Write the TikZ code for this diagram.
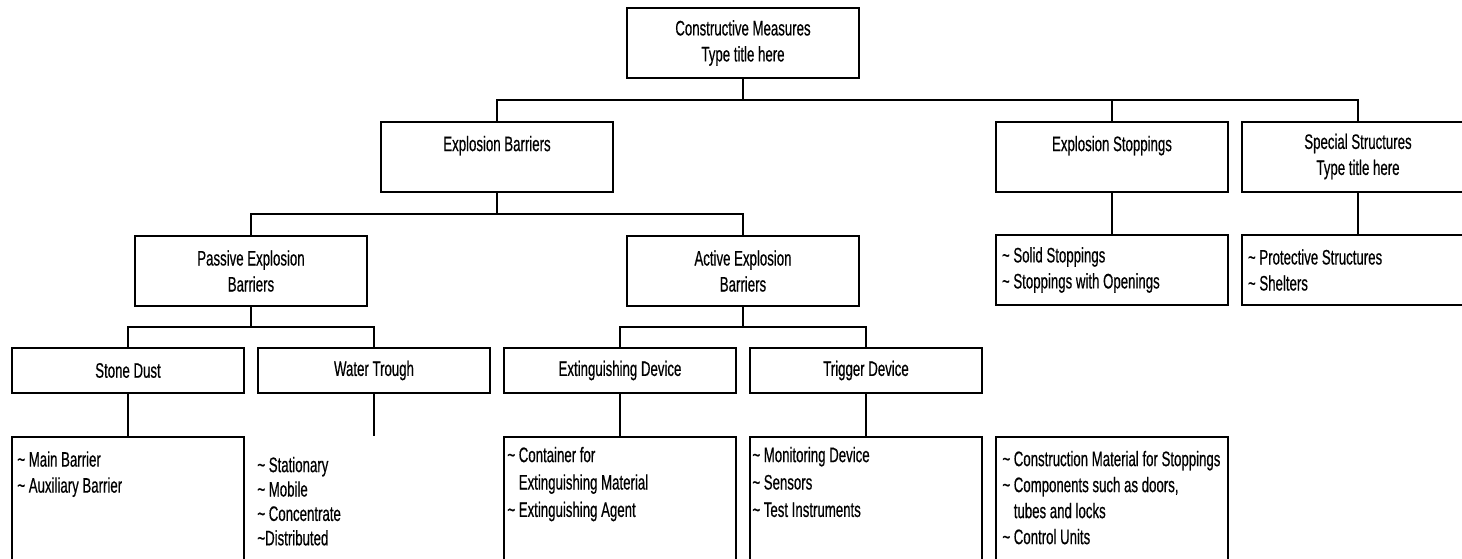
\documentclass[tikz,border=0pt]{standalone}
\usepackage{fontspec}
\setmainfont{Liberation Sans}[FakeStretch=0.63, FakeBold=0.5]
\usetikzlibrary{positioning,calc}

\newcommand{\itm}{\textasciitilde\ }
\newcommand{\itmgap}{\phantom{\textasciitilde\ }}

\begin{document}
\begin{tikzpicture}[
  x=1pt, y=1pt,
  node distance=6pt,
  every node/.style={font=\fontsize{10.5}{13}\selectfont},
  box/.style={draw, line width=1pt, align=center, inner sep=0pt,
              minimum width=116pt, minimum height=35pt},
  leaf/.style={box, minimum height=22.5pt},
  items/.style={box, align=flush left, text width=110pt},
  listbox/.style={draw, line width=1pt, inner sep=0pt,
                  minimum width=116pt, minimum height=72pt},
  listtext/.style={align=left, inner sep=0pt},
  link/.style={line width=1pt},
]
\useasboundingbox (0,0) rectangle (731,-279);
\clip (0,0) rectangle (731,-279);

% bottom row
\node[leaf] (stone) at (64,-185.25) {Stone Dust};
\node[leaf, right=of stone]  (water)   {Water Trough};
\node[leaf, right=of water]  (exting)  {Extinguishing Device};
\node[leaf, right=of exting] (trigger) {Trigger Device};

% upper levels
\node[box, yshift=49.75pt] (passive) at ($(stone)!.5!(water)$)    {Passive Explosion\\Barriers};
\node[box, yshift=49.75pt] (active)  at ($(exting)!.5!(trigger)$) {Active Explosion\\Barriers};
\node[box, yshift=57.25pt] (expl)    at ($(passive)!.5!(active)$) {Explosion Barriers\\\mbox{}};
\node[box, above=78pt of active]           (top)  {Constructive Measures\\Type title here};
\node[box, right=of trigger, yshift=107pt] (stop) {Explosion Stoppings\\\mbox{}};
\node[box, right=of stop]                  (spec) {Special Structures\\Type title here};

\node[items, below=20.75pt of stop] (stoplist) {\itm Solid Stoppings\\\itm Stoppings with Openings};
\node[items, below=20.75pt of spec] (speclist) {\itm Protective Structures\\\itm Shelters};

% detail boxes (run off the page)
\node[listbox, below=21pt of stone]            (stonelist) {};
\node[listbox, draw=none, below=21pt of water] (waterlist) {};
\node[listbox, below=21pt of exting]           (extlist)   {};
\node[listbox, below=21pt of trigger]          (triglist)  {};
\node[listbox, right=of triglist]              (conlist)   {};

\node[listtext, below right=7.5pt and 3pt of stonelist.north west] (stonetext)
  {\itm Main Barrier\\\itm Auxiliary Barrier};
\node[listtext, font=\fontsize{10.5}{12.2}\selectfont,
      below right=10.25pt and 0pt of waterlist.north west] (watertext)
  {\itm Stationary\\\itm Mobile\\\itm Concentrate\\\textasciitilde Distributed};
\node[listtext, font=\fontsize{10.5}{13.7}\selectfont,
      below right=5.25pt and 2pt of extlist.north west] (exttext)
  {\itm Container for\\\itmgap Extinguishing Material\\\itm Extinguishing Agent};
\node[listtext, font=\fontsize{10.5}{13.7}\selectfont,
      below right=5.25pt and 1.5pt of triglist.north west] (trigtext)
  {\itm Monitoring Device\\\itm Sensors\\\itm Test Instruments};
\node[listtext, below right=7.25pt and 3.5pt of conlist.north west] (context)
  {\itm Construction Material for Stoppings\\\itm Components such as doors,\\\itmgap tubes and locks\\\itm Control Units};

% connectors
\coordinate (bus1) at ($(top.south)!.5!(top.south |- expl.north)$);
\draw[link] (top) -- (bus1);
\draw[link] (expl) |- (bus1) -| (spec);
\draw[link] (stop) -- (stop |- bus1);

\coordinate (bus2) at ($(expl.south)!.5!(expl.south |- passive.north)$);
\draw[link] (expl) -- (bus2);
\draw[link] (passive) |- (bus2) -| (active);

\coordinate (bus3) at ($(passive.south)!.5!(passive.south |- stone.north)$);
\draw[link] (passive) -- (bus3);
\draw[link] (stone) |- (bus3) -| (water);

\coordinate (bus4) at ($(active.south)!.5!(active.south |- exting.north)$);
\draw[link] (active) -- (bus4);
\draw[link] (exting) |- (bus4) -| (trigger);

\draw[link] (stone)   -- (stonelist);
\draw[link] (water)   -- (waterlist);
\draw[link] (exting)  -- (extlist);
\draw[link] (trigger) -- (triglist);
\draw[link] (stop)    -- (stoplist);
\draw[link] (spec)    -- (speclist);
\end{tikzpicture}
\end{document}
